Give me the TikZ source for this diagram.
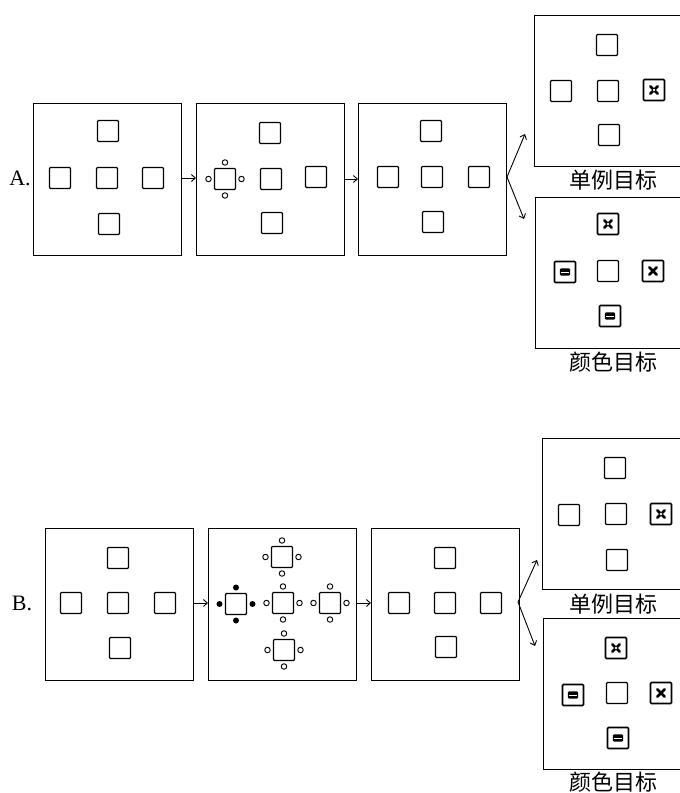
\documentclass[tikz,border=0pt]{standalone}
\usepackage{fontspec}
\setmainfont{Liberation Serif}
\newfontfamily\cjk{Noto Sans CJK SC}
\usetikzlibrary{arrows.meta,calc}
\tikzset{
  frame/.style={draw, line width=1.4pt, minimum width=148pt, minimum height=152pt, inner sep=0pt, anchor=north west},
  rframe/.style={draw, line width=1.4pt, minimum width=160pt, minimum height=151pt, inner sep=0pt, anchor=north west},
  sq/.style={draw, line width=1.2pt, minimum size=21pt, inner sep=0pt, rounded corners=1pt},
  tsq/.style={sq, line width=1.6pt},
  hc/.style={circle, draw, line width=0.9pt, minimum size=5.5pt, inner sep=0pt},
  fc/.style={circle, fill, minimum size=6pt, inner sep=0pt},
  conn/.style={line width=0.9pt, -{Straight Barb[length=4pt,width=7pt]}},
  lbl/.style={font=\fontsize{22}{22}\selectfont},
  clbl/.style={font=\cjk\fontsize{22}{22}\selectfont},
  xsym/.style={line width=2.8pt, line cap=round}
}
\newcommand{\crossmark}[1]{\draw[xsym, shift={(#1.center)}] (-3.6,-3.6) -- (3.6,3.6) (-3.6,3.6) -- (3.6,-3.6);}
\newcommand{\holecross}[1]{\draw[xsym, shift={(#1.center)}] (-3.6,-3.6) -- (3.6,3.6) (-3.6,3.6) -- (3.6,-3.6); \fill[white] (#1.center) circle (1.3pt);}
\newcommand{\barmark}[1]{\fill[rounded corners=1.2pt, shift={(#1.center)}] (-5.2,-3.6) rectangle (5.2,3.6); \draw[white, line width=0.9pt, shift={(#1.center)}] (-3.9,0) -- (3.9,0);}
\newcommand{\ring}[4]{% name, offset, style, prefix
  \node[#3] (#4n) at ($(#1.center)+(0,-#2)$) {};
  \node[#3] (#4s) at ($(#1.center)+(0,#2)$) {};
  \node[#3] (#4w) at ($(#1.center)+(-#2,0)$) {};
  \node[#3] (#4e) at ($(#1.center)+(#2,0)$) {};}
\begin{document}
\begin{tikzpicture}[x=1pt,y=-1pt]
\useasboundingbox (0,0) rectangle (680,793);
\fill[white] (0,0) rectangle (680,793);
\clip (0,0) rectangle (680,793);

% ===== Panel A =====
\node[lbl] (labA) at (20,178) {A.};
\node[frame] (a1) at (33,103) {};
\node[frame] (a2) at (196,103) {};
\node[frame] (a3) at (358,103) {};
\node[rframe] (a4) at (534,15) {};
\node[rframe] (a5) at (535,197) {};

\node[sq] (a1t) at (108,131) {};
\node[sq] (a1l) at (60,178) {};
\node[sq] (a1c) at (107,178) {};
\node[sq] (a1r) at (153,178) {};
\node[sq] (a1b) at (109,224) {};

\node[sq] (a2t) at (270,133) {};
\node[sq] (a2l) at (225,179) {};
\node[sq] (a2c) at (271,179) {};
\node[sq] (a2r) at (316,177) {};
\node[sq] (a2b) at (272,223) {};
\ring{a2l}{16.5}{hc}{a2lc}

\node[sq] (a3t) at (431,131) {};
\node[sq] (a3l) at (388,177) {};
\node[sq] (a3c) at (432,177) {};
\node[sq] (a3r) at (479,177) {};
\node[sq] (a3b) at (433,222) {};

\node[sq] (a4t) at (607,45) {};
\node[sq] (a4l) at (561,91) {};
\node[sq] (a4c) at (608,91) {};
\node[tsq] (a4r) at (654,90) {};
\node[sq] (a4b) at (609,135) {};
\holecross{a4r}
\node[clbl] (a4lab) at (613,180) {单例目标};

\node[tsq] (a5t) at (608,224) {};
\node[tsq] (a5l) at (565,272) {};
\node[sq] (a5c) at (608,271) {};
\node[tsq] (a5r) at (653,271) {};
\node[tsq] (a5b) at (610,316) {};
\holecross{a5t}
\crossmark{a5r}
\barmark{a5l}
\barmark{a5b}
\node[clbl] (a5lab) at (613,362) {颜色目标};

\coordinate (a3o) at (507,177);
\coordinate (a4i) at (525,134);
\coordinate (a5i) at (524,219);
\draw[conn] (a1.east |- a1c) -- (a2.west |- a1c);
\draw[conn] (a2.east |- a2c) -- (a3.west |- a2c);
\draw[conn] (a3o) -- (a4i);
\draw[conn] (a3o) -- (a5i);

% ===== Panel B =====
\node[lbl] (labB) at (22,603) {B.};
\node[frame] (b1) at (45,528) {};
\node[frame] (b2) at (208,528) {};
\node[frame] (b3) at (371,528) {};
\node[rframe] (b4) at (542,438) {};
\node[rframe] (b5) at (543,618) {};

\node[sq] (b1t) at (118,558) {};
\node[sq] (b1l) at (71,603) {};
\node[sq] (b1c) at (118,603) {};
\node[sq] (b1r) at (165,603) {};
\node[sq] (b1b) at (120,648) {};

\node[sq] (b2t) at (282,557) {};
\node[sq] (b2l) at (236,604) {};
\node[sq] (b2c) at (283,603) {};
\node[sq] (b2r) at (330,603) {};
\node[sq] (b2b) at (284,650) {};
\ring{b2t}{16.5}{hc}{b2tc}
\ring{b2l}{16.5}{fc}{b2lc}
\ring{b2c}{16.5}{hc}{b2cc}
\ring{b2r}{16.5}{hc}{b2rc}
\ring{b2b}{16.5}{hc}{b2bc}

\node[sq] (b3t) at (445,558) {};
\node[sq] (b3l) at (399,603) {};
\node[sq] (b3c) at (445,603) {};
\node[sq] (b3r) at (491,603) {};
\node[sq] (b3b) at (446,647) {};

\node[sq] (b4t) at (615,468) {};
\node[sq] (b4l) at (569,515) {};
\node[sq] (b4c) at (616,514) {};
\node[tsq] (b4r) at (661,514) {};
\node[sq] (b4b) at (617,560) {};
\holecross{b4r}
\node[clbl] (b4lab) at (613,604) {单例目标};

\node[tsq] (b5t) at (616,648) {};
\node[tsq] (b5l) at (573,695) {};
\node[sq] (b5c) at (617,693) {};
\node[tsq] (b5r) at (661,693) {};
\node[tsq] (b5b) at (618,738) {};
\holecross{b5t}
\crossmark{b5r}
\barmark{b5l}
\barmark{b5b}
\node[clbl] (b5lab) at (613,782) {颜色目标};

\coordinate (b3o) at (518,602);
\coordinate (b4i) at (537,560);
\coordinate (b5i) at (535,646);
\draw[conn] (b1.east |- b1c) -- (b2.west |- b1c);
\draw[conn] (b2.east |- b2c) -- (b3.west |- b2c);
\draw[conn] (b3o) -- (b4i);
\draw[conn] (b3o) -- (b5i);
\end{tikzpicture}
\end{document}
